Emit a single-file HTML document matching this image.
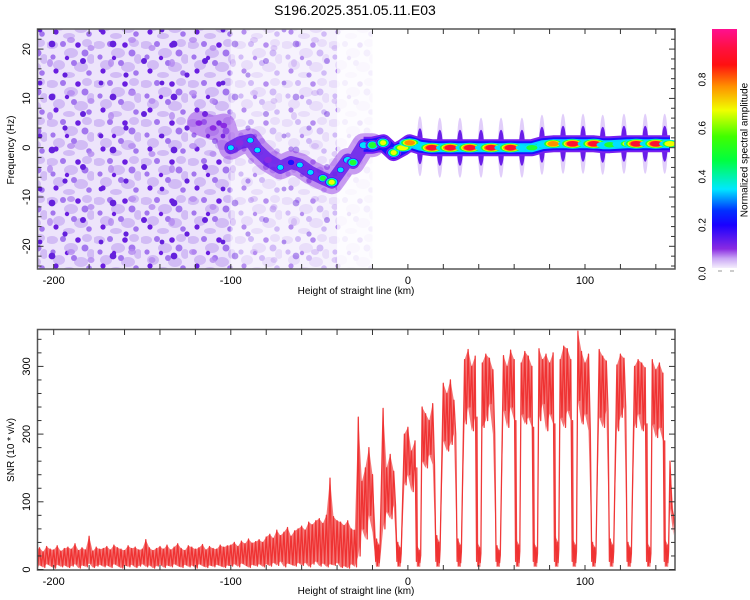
<!DOCTYPE html>
<html><head><meta charset="utf-8"><style>
html,body{margin:0;padding:0;background:#fff;}
svg{display:block;font-family:"Liberation Sans",sans-serif;}
</style></head><body>
<svg id="chart" width="750" height="600" viewBox="0 0 750 600">
<defs>
<linearGradient id="cbar" x1="0" y1="1" x2="0" y2="0">
<stop offset="0" stop-color="#f4eefc"/><stop offset="0.04" stop-color="#c9a6f5"/>
<stop offset="0.08" stop-color="#8a2be2"/><stop offset="0.18" stop-color="#1a00ff"/>
<stop offset="0.24" stop-color="#0030ff"/><stop offset="0.33" stop-color="#00e8ff"/>
<stop offset="0.45" stop-color="#00ff40"/><stop offset="0.55" stop-color="#40ff00"/>
<stop offset="0.66" stop-color="#f0ff00"/><stop offset="0.76" stop-color="#ff9000"/>
<stop offset="0.85" stop-color="#ff1010"/><stop offset="0.92" stop-color="#ff1040"/>
<stop offset="1" stop-color="#ff1090"/></linearGradient>
<pattern id="noiseA" width="47" height="39" patternUnits="userSpaceOnUse">
<rect width="47" height="39" fill="#ede4fb"/>
<g fill="#d2bcf5"><ellipse cx="5" cy="6" rx="6" ry="4"/><ellipse cx="24" cy="14" rx="7" ry="5"/><ellipse cx="40" cy="4" rx="5" ry="4"/><ellipse cx="12" cy="26" rx="6" ry="5"/><ellipse cx="34" cy="28" rx="7" ry="5"/><ellipse cx="44" cy="20" rx="4" ry="5"/><ellipse cx="22" cy="36" rx="6" ry="3"/></g>
<g fill="#a376ee"><circle cx="16" cy="5" r="3"/><circle cx="38" cy="14" r="3.5"/><circle cx="6" cy="18" r="2.6"/><circle cx="27" cy="24" r="3"/><circle cx="42" cy="34" r="2.8"/></g>
<g fill="#6a1ee0"><circle cx="31" cy="6" r="2.8"/><circle cx="9" cy="32" r="2.6"/><circle cx="20" cy="19" r="2.2"/></g>
</pattern>
<pattern id="noiseB" width="61" height="53" patternUnits="userSpaceOnUse">
<g fill="#b48af0" opacity="0.8"><ellipse cx="10" cy="40" rx="4" ry="3"/><ellipse cx="50" cy="10" rx="3" ry="4"/><ellipse cx="30" cy="48" rx="3.5" ry="3"/></g>
<g fill="#6420dc"><circle cx="52" cy="44" r="3.4"/><circle cx="22" cy="8" r="3"/><circle cx="40" cy="30" r="2.4"/><circle cx="4" cy="22" r="2.6"/></g>
</pattern>
<clipPath id="clipTop"><rect x="37.5" y="29" width="637.5" height="240"/></clipPath>
<clipPath id="clipBot"><rect x="37.5" y="329.5" width="637.5" height="240.5"/></clipPath>
</defs>
<text x="355" y="15" text-anchor="middle" font-size="14" fill="#000">S196.2025.351.05.11.E03</text>
<g id="top"></g>
<g id="bot"></g>
<g id="cb"></g>
</svg>
<script>
// ---- data ----
const snrHi = [].concat(
[28,32,26,34,30,29,35,27,31,33,30,38,28,32,29,49,27,33,30,31,34,29,36,32,30,28,35,31,33,29,30,44,32,28,31,34,30,36,29,33,38,31,28,35,33,30,32,37,29,34,31,30,36,33,35],
[36,40,34,42,38,45,39,41,44,40],[48,52,46,58,50,55,62,49,57,60],[64,58,70,66,72],[75,68,80,135,78,72,70],[65,72,60,58],[225],
[130,150,180,140],[240,165,238,150,170,145],[180,288],[200,210,175,190,205],[240,230,220,245,235,228],[275,260,280,250,270],
[320,310,325,300,315,322,305,318,312,295,320,308,316,300,324,310,318,305,322,315,300,312,326,310,318,305,320,315,310,330,326,310,318,352,322,305,318,310,300,325,315,308,320,310,302,318,312,305,315,300,310,305,298],
[300,310,295,305,290],[220,160,80]);
const snrLo = [].concat(
[4,6,3,8,5,2,7,4,6,3,5,8,2,6,4,9,3,5,7,4,6,3,8,5,2,6,4,7,3,5,8,4,6,2,5,7,3,6,4,8,5,3,7,4,6,2,8,5,3,6,4,7,5,3,6],
[5,8,4,9,6,3,7,5,8,4],[8,5,10,6,12,4,9,7,5,10],[6,10,4,8,12],[5,9,4,8,6,10,3],[5,2,8,4],[20],
[60,45,80,55],[70,90,60,85,75,95],[110,130],[125,140,115,150,135],[160,150,170,155,165,175],[190,175,185,200,180],
[230,215,240,205,225,235,210,220,245,200,225,215,235,210,240,220,205,230,215,225,210,235,220,245,205,230,215,240,225,210,235,220,200,250,215,230,205,240,220,225,210,235,215,230,205,225,240,215,220,210,230,205,215],
[200,215,195,210,190],[140,90,50]);
const snrStartKm = -210, snrStepKm = 2;
const dipKm = [-17,-5,6,17,29,40,51,62,72,84,94,105,115,125,136,146];
const dipPeak = [45,40,35,50,45,40,35,45,40,50,45,40,45,40,40,45];
const ridgeKm = [-118,-110,-104,-100,-95,-89,-85,-79,-72,-66,-61,-55,-48,-43,-38,-34,-31,-25,-20,-14,-8,-3,1,7,13.5,19,24,30,35,41,47,52,58,64,70,76,82,88,93,99,105,110,114,119,124,129,134,140,145,148];
const ridgeFreq = [5,4,4.5,0,1,1.5,-0.5,-2.5,-4,-3,-3.5,-5,-6.2,-7,-4.5,-2.5,-3,0.5,0.5,1,-1,0,1,0.3,0,0,0,0,0,0,0,0,0,0,0,0.6,0.8,0.8,0.8,0.8,0.8,0.6,0.6,0.7,0.8,0.8,0.8,0.8,0.8,0.8];
const ridgeAmp = [.15,.15,.15,.3,.2,.3,.3,.2,.3,.25,.3,.3,.45,.6,.3,.4,.5,.4,.55,.6,.6,.65,.75,.35,.92,.35,.92,.35,.92,.35,.92,.35,.92,.35,.5,.35,.78,.35,.92,.35,.92,.4,.5,.4,.6,.92,.35,.92,.35,.65];
const streakKm = [6.8,18,29.4,41.3,52.6,64.4,75.7,87.6,98.9,110,122,134,145];
const xTicks = [-200,-100,0,100];
const freqTicks = [-20,-10,0,10,20];
const snrTicks = [0,100,200,300];
const cbTicks = [0.0,0.2,0.4,0.6,0.8];

// ---- scales ----
const X = km => 407.9 + km*1.771;
const YT = f => 147.7 - f*4.93;
const YB = v => 569.5 - v*0.677;
const YC = a => 273.5 - a*242.5;
const NS = 'http://www.w3.org/2000/svg';
function mk(parent, tag, attrs){const e=document.createElementNS(NS,tag);for(const k in attrs)e.setAttribute(k,attrs[k]);parent.appendChild(e);return e;}
function txt(parent,x,y,s,size,extra){const t=mk(parent,'text',Object.assign({x:x,y:y,'font-size':size,fill:'#000','text-anchor':'middle'},extra||{}));t.textContent=s;return t;}
const L=37.5,R=675;
const topG=document.getElementById('top'), botG=document.getElementById('bot'), cbG=document.getElementById('cb');

// ---- top spectrogram ----
const tg=mk(topG,'g',{'clip-path':'url(#clipTop)'});
let e;
e=mk(tg,'rect',{x:L,y:29,width:X(-100)-L,height:240,fill:'url(#noiseA)'});


e=mk(tg,'rect',{x:L,y:29,width:X(-100)-L,height:240,fill:'url(#noiseB)'});


e=mk(tg,'rect',{x:X(-100),y:29,width:X(-40)-X(-100),height:240,fill:'url(#noiseA)',opacity:0.5});


e=mk(tg,'rect',{x:X(-100),y:29,width:X(-40)-X(-100),height:240,fill:'url(#noiseB)',opacity:0.45});


e=mk(tg,'rect',{x:X(-40),y:29,width:X(-20)-X(-40),height:240,fill:'url(#noiseA)',opacity:0.12});


const lvl=[[0.1,'#8a2be2'],[0.22,'#1a10ff'],[0.3,'#00e0ff'],[0.45,'#20ff30'],[0.6,'#f0ff00'],[0.72,'#ff9000'],[0.85,'#ff1030']];
function ridgePts(filter){return ridgeKm.map((k,i)=>[k,ridgeFreq[i]]).filter(p=>filter(p[0])).map(p=>X(p[0]).toFixed(1)+','+YT(p[1]).toFixed(1)).join(' ');}
streakKm.forEach((k,i)=>{
  let fi=0,best=1e9;ridgeKm.forEach((rk,j)=>{if(Math.abs(rk-k)<best){best=Math.abs(rk-k);fi=j;}});
  const s1=mk(tg,'ellipse',{cx:X(k),cy:YT(ridgeFreq[fi]),rx:3,ry:30,fill:'#c9a6f5',opacity:0.55});
  
  
  const s2=mk(tg,'ellipse',{cx:X(k),cy:YT(ridgeFreq[fi]),rx:3,ry:18,fill:'#6a1ee8'});
  
  
});
e=mk(tg,'polyline',{points:ridgePts(k=>k<=-20),fill:'none',stroke:'#8a2be2','stroke-width':24,'stroke-opacity':0.45,'stroke-linejoin':'round','stroke-linecap':'round'});


e=mk(tg,'polyline',{points:ridgePts(k=>k>=-100&&k<=-20),fill:'none',stroke:'#5a10e8','stroke-width':13,'stroke-opacity':0.75,'stroke-linejoin':'round','stroke-linecap':'round'});


e=mk(tg,'polyline',{points:ridgePts(k=>k>=-25),fill:'none',stroke:'#7a20f0','stroke-width':17,'stroke-linejoin':'round'});


e=mk(tg,'polyline',{points:ridgePts(k=>k>=-25),fill:'none',stroke:'#1a10ff','stroke-width':13,'stroke-linejoin':'round'});


e=mk(tg,'polyline',{points:ridgePts(k=>k>=-5),fill:'none',stroke:'#00d8ff','stroke-width':9,'stroke-linejoin':'round'});


e=mk(tg,'polyline',{points:ridgePts(k=>k>=-5),fill:'none',stroke:'#10f080','stroke-width':4,'stroke-linejoin':'round'});


ridgeKm.forEach((k,i)=>{
  const a=ridgeAmp[i], g=mk(tg,'g',{});
  
  
  const flat=k>-5;
  lvl.forEach(([t,c],j)=>{
    if(a<t)return;
    if(flat && t<0.3)return;
    const d=a-t;
    const rx=flat?(5+d*12):(3+d*9), ry=flat?(2.5+d*4):(2.5+d*6);
    mk(g,'ellipse',{cx:X(k),cy:YT(ridgeFreq[i]),rx:rx,ry:ry,fill:c});
  });
});
// top axes
mk(topG,'rect',{x:L,y:29,width:R-L,height:240,fill:'none',stroke:'#555','stroke-width':1.5});
for(let f=-24;f<=24;f+=2){const big=f%10===0;const y=YT(f);mk(topG,'line',{x1:L,x2:L+(big?6:4),y1:y,y2:y,stroke:'#333'});mk(topG,'line',{x1:R,x2:R-(big?6:4),y1:y,y2:y,stroke:'#333'});}
for(let k=-200;k<=140;k+=20){const x=X(k);mk(topG,'line',{x1:x,x2:x,y1:29,y2:34,stroke:'#333'});mk(topG,'line',{x1:x,x2:x,y1:269,y2:264,stroke:'#333'});}
freqTicks.forEach(f=>{const t=txt(topG,27,YT(f),String(f),11,{transform:`rotate(-90 27 ${YT(f)})`,'dominant-baseline':'middle'});});
xTicks.forEach(k=>{const t=txt(topG,X(k),284,String(k),11);});
e=txt(topG,356,294,'Height of straight line (km)',10);
e=txt(topG,14,150,'Frequency (Hz)',10,{transform:'rotate(-90 14 150)'});

// ---- colorbar ----
mk(cbG,'rect',{x:712,y:29,width:25,height:239,fill:'url(#cbar)'});
mk(cbG,'line',{x1:718,x2:722,y1:271,y2:271,stroke:'#999'});mk(cbG,'line',{x1:730,x2:734,y1:271,y2:271,stroke:'#999'});
cbTicks.forEach(a=>{const y=YC(a);const t=txt(cbG,703,y,a.toFixed(1),10,{transform:`rotate(-90 703 ${y})`,'dominant-baseline':'middle'});});
e=txt(cbG,745,150,'Normalized spectral amplitude',10,{transform:'rotate(-90 745 150)','dominant-baseline':'middle'});

// ---- bottom SNR ----
const bg=mk(botG,'g',{'clip-path':'url(#clipBot)'});
let pts=[], upper=[], lower=[];
snrHi.forEach((h,i)=>{
  const k=snrStartKm+i*snrStepKm;
  if(dipKm.some(d=>Math.abs(d-k)<1.3))return;
  pts.push([k,h]);pts.push([k+1,snrLo[i]]);
  upper.push([k,h]);lower.push([k,snrLo[i]]);
});
dipKm.forEach((d,i)=>{
  pts.push([d-1.2,12]);pts.push([d-0.7,dipPeak[i]]);pts.push([d-0.2,6]);pts.push([d+0.3,dipPeak[i]*0.8]);pts.push([d+0.8,10]);pts.push([d+1.2,dipPeak[i]*0.6]);
  upper.push([d-1,dipPeak[i]]);upper.push([d+1,dipPeak[i]*0.8]);
  lower.push([d-1,4]);lower.push([d+1,4]);
});
pts.sort((a,b)=>a[0]-b[0]);upper.sort((a,b)=>a[0]-b[0]);lower.sort((a,b)=>a[0]-b[0]);
const bandPts=upper.concat(lower.slice().reverse()).map(p=>X(p[0]).toFixed(1)+','+YB(p[1]).toFixed(1)).join(' ');
e=mk(bg,'polygon',{points:bandPts,fill:'#f04040','fill-opacity':0.7});


e=mk(bg,'polyline',{points:pts.map(p=>X(p[0]).toFixed(1)+','+YB(p[1]).toFixed(1)).join(' '),fill:'none',stroke:'#ee2a2a','stroke-width':1.3,'stroke-opacity':0.9,'stroke-linejoin':'round'});


mk(botG,'rect',{x:L,y:329.5,width:R-L,height:240.5,fill:'none',stroke:'#555','stroke-width':1.5});
for(let v=0;v<=350;v+=20){const big=v%100===0;const y=YB(v);mk(botG,'line',{x1:L,x2:L+(big?6:4),y1:y,y2:y,stroke:'#333'});mk(botG,'line',{x1:R,x2:R-(big?6:4),y1:y,y2:y,stroke:'#333'});}
for(let k=-200;k<=140;k+=20){const x=X(k);mk(botG,'line',{x1:x,x2:x,y1:329.5,y2:335,stroke:'#333'});mk(botG,'line',{x1:x,x2:x,y1:570,y2:565,stroke:'#333'});}
snrTicks.forEach(v=>{const t=txt(botG,27,YB(v),String(v),11,{transform:`rotate(-90 27 ${YB(v)})`,'dominant-baseline':'middle'});});
xTicks.forEach(k=>{const t=txt(botG,X(k),585,String(k),11);});
e=txt(botG,356,594,'Height of straight line (km)',10);
e=txt(botG,14,450,'SNR (10 * v/v)',10,{transform:'rotate(-90 14 450)'});
</script>
</body></html>
